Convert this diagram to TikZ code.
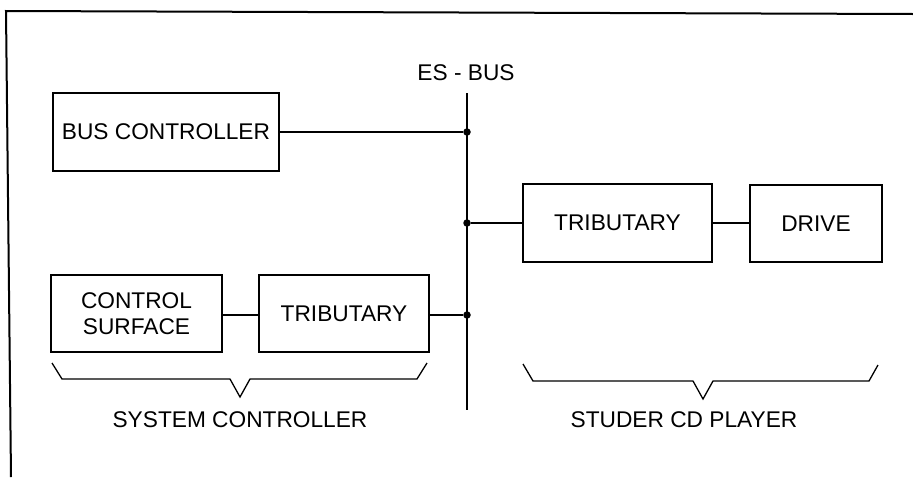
\documentclass[tikz,border=0pt]{standalone}
\usepackage{fontspec}
\setmainfont{Liberation Sans}
\begin{document}
\begin{tikzpicture}[x=1pt,y=-1pt,
  box/.style={draw,line width=2pt,inner sep=0pt,align=center,font=\fontsize{22.7}{27}\selectfont},
  lbl/.style={inner sep=0pt,font=\fontsize{22.7}{27}\selectfont},
  conn/.style={line width=1.3pt},
  dotmark/.style={circle,fill,inner sep=0pt,minimum size=7.5pt}]
\useasboundingbox (0,0) rectangle (913,477);
% partial frame
\draw[line width=2pt] (913,14) -- (6,11) -- (11,477);
% boxes
\node[box,minimum width=226pt,minimum height=78pt] (busc) at (166,132) {BUS CONTROLLER};
\node[box,minimum width=189pt,minimum height=78pt] (tribr) at (617.5,223) {TRIBUTARY};
\node[box,minimum width=132pt,minimum height=77pt] (drive) at (816,223.5) {DRIVE};
\node[box,minimum width=171pt,minimum height=77pt] (cs) at (136.5,313.5) {CONTROL\\[-1pt]SURFACE};
\node[box,minimum width=170pt,minimum height=77pt] (tribl) at (344,313.5) {TRIBUTARY};
% bus
\coordinate (btop) at (467,93);
\coordinate (bbot) at (467,410);
\draw[conn] (btop) -- (bbot);
\node[lbl] (esbus) at (466,73) {ES - BUS};
\node[dotmark] (d1) at (467,132) {};
\node[dotmark] (d2) at (467,223) {};
\node[dotmark] (d3) at (467,315) {};
\draw[conn] (busc.east |- d1) -- (d1);
\draw[conn] (d2) -- (tribr.west |- d2);
\draw[conn] (tribr.east) -- (drive.west |- tribr.east);
\draw[conn] (cs.east |- d3) -- (tribl.west |- d3);
\draw[conn] (tribl.east |- d3) -- (d3);
% braces
\draw[conn,line join=miter] (52,363) -- (62,379) -- (230,379) -- (240,397) -- (250,379) -- (417,379) -- (427,363);
\draw[conn,line join=miter] (523,364) -- (533,381) -- (693,381) -- (703,399) -- (713,381) -- (869,381) -- (878,365);
\node[lbl] (sysc) at (240,420) {SYSTEM CONTROLLER};
\node[lbl] (studer) at (684,420) {STUDER CD PLAYER};
\end{tikzpicture}
\end{document}
